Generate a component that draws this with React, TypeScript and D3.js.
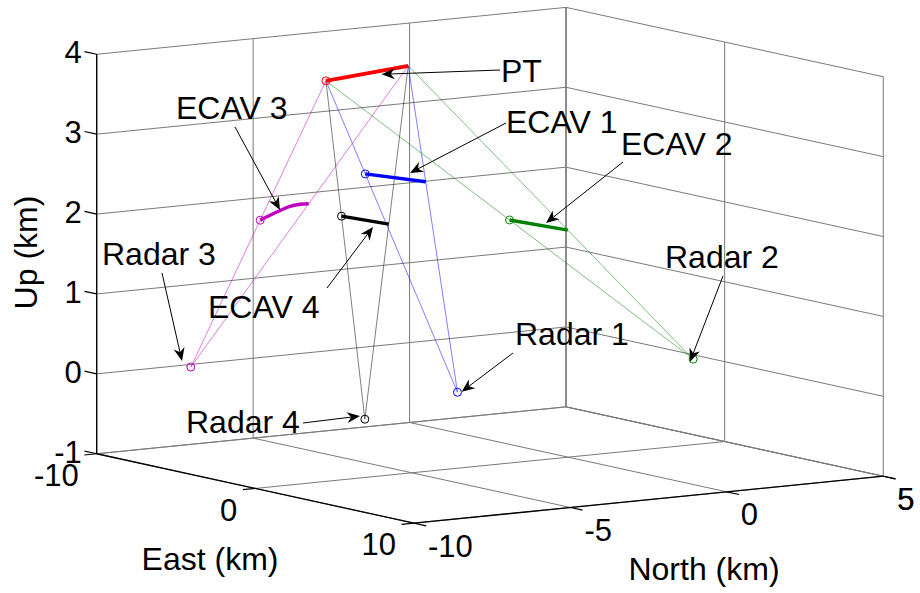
import React from "react";
import * as d3 from "d3";

// ---------- axis data ----------
const eastDomain = [-10, 10];
const northDomain = [-10, 5];
const upDomain = [-1, 4];
const eastTicks = [-10, 0, 10];
const northTicks = [-10, -5, 0, 5];
const upTicks = [-1, 0, 1, 2, 3, 4];

// ---------- radars (km) ----------
const radarNames = ["Radar 1", "Radar 2", "Radar 3", "Radar 4"];
const radarEast = [0.77, -1.12, -9.49, 4.28];
const radarNorth = [-3.93, 4.56, -7.25, -8.67];
const radarUp = [0, 0, 0, 0];

// ---------- phantom target path (start, end) ----------
const ptEast = [-3.38, -4.72];
const ptNorth = [-6.03, -2.72];
const ptUp = [3.8, 3.8];

// ---------- ECAV paths: fraction of the radar->PT line of sight over time ----------
const ecav1Time = [0, 1];
const ecav1Ratio = [0.701, 0.645];
const ecav2Time = [0, 1];
const ecav2Ratio = [0.5, 0.44];
const ecav3Time = [0, 0.33, 0.55, 0.79, 1];
const ecav3Ratio = [0.513, 0.533, 0.545, 0.546, 0.542];
const ecav4Time = [0, 1];
const ecav4Ratio = [0.6, 0.552];

// ---------- styling / layout ----------
const W = 920;
const H = 593;
const AZ = 55.94;
const EL = 8.5;
const ASPECT = [1, 1, 0.713];
const SCALE = 566.5;
const CX = 490;
const CY = 265.25;
const FONT = "'Liberation Sans', Arial, Helvetica, sans-serif";
const TICK_FS = 31;
const LABEL_FS = 32;
const TICK_LEN = 12.5;
const radarColors = ["#0000ff", "#008000", "#bf00bf", "#000000"];
const ptColor = "#ff0000";

// annotation layout (figure pixels): text left/baseline, arrow tail, arrow tip
const annotations = [
  { text: "PT", tx: 501, ty: 82, ax: 500, ay: 70, bx: 381.7, by: 74.3 },
  { text: "ECAV 1", tx: 506, ty: 133, ax: 506, ay: 123, bx: 410, by: 173 },
  { text: "ECAV 2", tx: 621, ty: 155, ax: 623, ay: 162, bx: 546, by: 223 },
  { text: "ECAV 3", tx: 176, ty: 119, ax: 235, ay: 127, bx: 280, by: 210 },
  { text: "ECAV 4", tx: 208, ty: 318, ax: 327, ay: 288, bx: 373, by: 227 },
  { text: "Radar 1", tx: 515, ty: 345, ax: 513, ay: 353, bx: 461.7, by: 391.7 },
  { text: "Radar 2", tx: 665, ty: 268, ax: 723, ay: 276, bx: 690, by: 361.7 },
  { text: "Radar 3", tx: 102, ty: 265, ax: 162, ay: 273, bx: 182, by: 361 },
  { text: "Radar 4", tx: 186, ty: 433, ax: 303, ay: 423, bx: 360, by: 416 },
];

type P2 = [number, number];

function makeProjector() {
  const sx = d3.scaleLinear().domain(eastDomain).range([-0.5 * ASPECT[0], 0.5 * ASPECT[0]]);
  const sy = d3.scaleLinear().domain(northDomain).range([-0.5 * ASPECT[1], 0.5 * ASPECT[1]]);
  const sz = d3.scaleLinear().domain(upDomain).range([-0.5 * ASPECT[2], 0.5 * ASPECT[2]]);
  const a = (AZ * Math.PI) / 180;
  const e = (EL * Math.PI) / 180;
  return (E: number, N: number, U: number): P2 => {
    const x = sx(E), y = sy(N), z = sz(U);
    const X = Math.cos(a) * x + Math.sin(a) * y;
    const Y = -Math.sin(e) * Math.sin(a) * x + Math.sin(e) * Math.cos(a) * y + Math.cos(e) * z;
    return [CX + SCALE * X, CY - SCALE * Y];
  };
}

function unit(a: P2, b: P2): P2 {
  const dx = b[0] - a[0], dy = b[1] - a[1];
  const l = Math.hypot(dx, dy);
  return [dx / l, dy / l];
}

export default function App() {
  const p = makeProjector();
  const line = d3.line<P2>();
  const curve = d3.line<P2>().curve(d3.curveMonotoneX);
  const [e0, e1] = eastDomain;
  const [n0, n1] = northDomain;
  const [u0, u1] = upDomain;

  // grid
  const grid: [P2, P2][] = [];
  upTicks.forEach((u) => {
    grid.push([p(e0, n0, u), p(e0, n1, u)]);
    grid.push([p(e0, n1, u), p(e1, n1, u)]);
  });
  northTicks.concat([n1]).forEach((n) => {
    grid.push([p(e0, n, u0), p(e0, n, u1)]);
    grid.push([p(e0, n, u0), p(e1, n, u0)]);
  });
  eastTicks.forEach((e) => {
    grid.push([p(e, n1, u0), p(e, n1, u1)]);
    grid.push([p(e, n0, u0), p(e, n1, u0)]);
  });

  // axes
  const axes: [P2, P2][] = [
    [p(e0, n0, u0), p(e0, n0, u1)],
    [p(e0, n0, u0), p(e1, n0, u0)],
    [p(e1, n0, u0), p(e1, n1, u0)],
  ];

  const dirMinusN = unit(p(0, 0, 0), p(0, -1, 0));
  const dirPlusE = unit(p(0, 0, 0), p(1, 0, 0));
  const dirMinusE = unit(p(0, 0, 0), p(-1, 0, 0));

  const ptAt = (s: number): [number, number, number] => {
    const fe = d3.scaleLinear().domain([0, 1]).range(ptEast);
    const fn = d3.scaleLinear().domain([0, 1]).range(ptNorth);
    const fu = d3.scaleLinear().domain([0, 1]).range(ptUp);
    return [fe(s), fn(s), fu(s)];
  };

  const ecavs = [
    { r: 0, time: ecav1Time, ratio: ecav1Ratio },
    { r: 1, time: ecav2Time, ratio: ecav2Ratio },
    { r: 2, time: ecav3Time, ratio: ecav3Ratio },
    { r: 3, time: ecav4Time, ratio: ecav4Ratio },
  ].map((ec) => {
    const R = [radarEast[ec.r], radarNorth[ec.r], radarUp[ec.r]];
    const pts: P2[] = ec.time.map((s, i) => {
      const T = ptAt(s);
      const k = ec.ratio[i];
      return p(R[0] + k * (T[0] - R[0]), R[1] + k * (T[1] - R[1]), R[2] + k * (T[2] - R[2]));
    });
    return { color: radarColors[ec.r], pts };
  });

  const ptPts: P2[] = ptEast.map((_, i) => p(ptEast[i], ptNorth[i], ptUp[i]));
  const radarPts: P2[] = radarNames.map((_, i) => p(radarEast[i], radarNorth[i], radarUp[i]));

  const arrowHead = (a: any) => {
    const T: P2 = [a.ax, a.ay];
    const P: P2 = [a.bx, a.by];
    const d = unit(T, P);
    const n: P2 = [-d[1], d[0]];
    const L = 13, w = 5.5, notch = 9;
    const pts: P2[] = [
      P,
      [P[0] - d[0] * L + n[0] * w, P[1] - d[1] * L + n[1] * w],
      [P[0] - d[0] * notch, P[1] - d[1] * notch],
      [P[0] - d[0] * L - n[0] * w, P[1] - d[1] * L - n[1] * w],
    ];
    return { poly: pts.map((q) => q.join(",")).join(" "), shaftEnd: [P[0] - d[0] * notch, P[1] - d[1] * notch] as P2 };
  };

  return (
    <svg width={W} height={H} style={{ position: "absolute", left: 0, top: 0, background: "#fff" }} fontFamily={FONT}>
      <rect x={0} y={0} width={W} height={H} fill="#fff" />
      <g>
        {grid.map((g, i) => (
          <path key={"g" + i} d={line(g) || ""} stroke="#7a7a7a" strokeWidth={1} fill="none" />
        ))}
      </g>
      <g>
        {axes.map((g, i) => (
          <path key={"a" + i} d={line(g) || ""} stroke="#000" strokeWidth={1.3} fill="none" />
        ))}
        {eastTicks.map((e) => {
          const a = p(e, n0, u0);
          const b: P2 = [a[0] + dirMinusN[0] * TICK_LEN, a[1] + dirMinusN[1] * TICK_LEN];
          return (
            <g key={"et" + e}>
              <path d={line([a, b]) || ""} stroke="#000" strokeWidth={1.2} />
              <text x={a[0] - 18} y={a[1] + 21 + 0.358 * TICK_FS} fontSize={TICK_FS} textAnchor="end">
                {e}
              </text>
            </g>
          );
        })}
        {northTicks.concat([n1]).map((n) => {
          const a = p(e1, n, u0);
          const b: P2 = [a[0] + dirPlusE[0] * TICK_LEN, a[1] + dirPlusE[1] * TICK_LEN];
          return (
            <g key={"nt" + n}>
              <path d={line([a, b]) || ""} stroke="#000" strokeWidth={1.2} />
              <text x={a[0] + 14} y={a[1] + 22.5 + 0.358 * TICK_FS} fontSize={TICK_FS} textAnchor="start">
                {n}
              </text>
            </g>
          );
        })}
        {upTicks.map((u) => {
          const a = p(e0, n0, u);
          const b: P2 = [a[0] + dirMinusE[0] * TICK_LEN, a[1] + dirMinusE[1] * TICK_LEN];
          return (
            <g key={"ut" + u}>
              <path d={line([a, b]) || ""} stroke="#000" strokeWidth={1.2} />
              <text x={a[0] - 15} y={a[1] - 2 + 0.358 * TICK_FS} fontSize={TICK_FS} textAnchor="end">
                {u}
              </text>
            </g>
          );
        })}
        <text x={210} y={570} fontSize={LABEL_FS} textAnchor="middle">East (km)</text>
        <text x={704} y={580} fontSize={LABEL_FS} textAnchor="middle">North (km)</text>
        <text transform="translate(36.7,252.5) rotate(-90)" fontSize={LABEL_FS} textAnchor="middle">Up (km)</text>
      </g>
      {/* lines of sight */}
      <g>
        {radarPts.map((r, i) =>
          ptPts.map((t, j) => (
            <path key={`los${i}-${j}`} d={line([r, t]) || ""} stroke={radarColors[i]} strokeOpacity={0.5} strokeWidth={1} fill="none" />
          ))
        )}
      </g>
      {/* paths */}
      <g>
        <path d={line(ptPts) || ""} stroke={ptColor} strokeWidth={3.8} fill="none" />
        {ecavs.map((ec, i) => (
          <path key={"ec" + i} d={(ec.pts.length > 2 ? curve(ec.pts) : line(ec.pts)) || ""} stroke={ec.color} strokeWidth={3.4} fill="none" />
        ))}
        <circle cx={ptPts[0][0]} cy={ptPts[0][1]} r={4} fill="none" stroke={ptColor} strokeWidth={1} />
        {ecavs.map((ec, i) => (
          <circle key={"ecm" + i} cx={ec.pts[0][0]} cy={ec.pts[0][1]} r={4} fill="none" stroke={ec.color} strokeWidth={1} />
        ))}
        {radarPts.map((r, i) => (
          <circle key={"rm" + i} cx={r[0]} cy={r[1]} r={4} fill="none" stroke={radarColors[i]} strokeWidth={1} />
        ))}
      </g>
      {/* annotations */}
      <g>
        {annotations.map((a, i) => {
          const h = arrowHead(a);
          return (
            <g key={"an" + i}>
              <path d={line([[a.ax, a.ay], h.shaftEnd]) || ""} stroke="#000" strokeWidth={1} fill="none" />
              <polygon points={h.poly} fill="#000" />
              <text x={a.tx} y={a.ty} fontSize={LABEL_FS}>
                {a.text}
              </text>
            </g>
          );
        })}
      </g>
    </svg>
  );
}
